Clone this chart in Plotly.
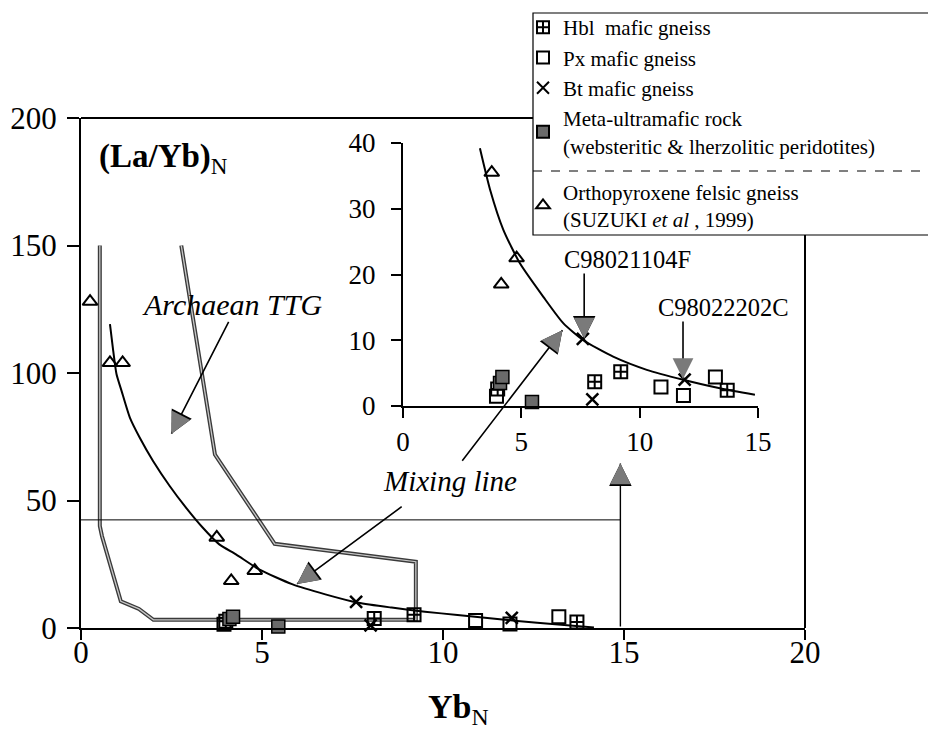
import plotly.graph_objects as go

W, H = 928, 737
FONT = "Liberation Serif"

# ---------------- data ----------------
hbl_x = [4.0, 8.1, 9.2, 13.7]
hbl_y = [2.6, 3.7, 5.2, 2.4]
px_x = [3.95, 10.9, 11.85, 13.2]
px_y = [1.5, 2.9, 1.6, 4.4]
bt_x = [7.6, 8.0, 11.9]
bt_y = [10.2, 1.0, 4.0]
um_x = [4.1, 4.2, 5.45]
um_y = [3.5, 4.4, 0.6]
opx_x = [0.25, 0.8, 1.15, 3.75, 4.15, 4.8]
opx_y = [128, 104, 104, 35.5, 18.5, 22.5]

# mixing line, main panel
mix_x = [0.80, 0.89, 0.98, 1.12, 1.35, 1.62, 1.99, 2.45, 2.90, 3.36, 3.82, 4.28,
         4.92, 5.83, 6.75, 7.66, 8.58, 9.5, 10.4, 11.5, 12.6, 14.17]
mix_y = [119.2, 108.7, 99.6, 93.0, 82.5, 74.7, 65.5, 55.7, 47.2, 39.4, 32.8, 28.9,
         23.0, 17.2, 13.2, 9.9, 8.0, 6.4, 5.1, 3.5, 2.1, 0.2]
# mixing line, inset
mixi_x = [3.25, 3.68, 4.24, 4.94, 5.93, 6.77, 7.62, 8.88, 10.3, 11.84, 13.39, 14.87]
mixi_y = [39.2, 32.9, 26.8, 21.7, 16.6, 12.6, 10.0, 7.5, 5.5, 4.0, 2.7, 1.7]

# Archaean TTG field outline
ttg_x = [2.77, 3.7, 5.35, 9.25, 9.25, 2.0, 1.6, 1.1, 0.58, 0.52, 0.52]
ttg_y = [150, 68, 33, 26, 3.2, 3.2, 7.5, 10.5, 36, 40, 150]

x_ticks = [0, 5, 10, 15, 20]
y_ticks = [0, 50, 100, 150, 200]
xi_ticks = [0, 5, 10, 15]
yi_ticks = [0, 10, 20, 30, 40]

# ---------------- layout geometry ----------------
mx0, mx1 = 81 / W, 805 / W
my0, my1 = 1 - 628 / H, 1 - 118 / H
ix0, ix1 = 403 / W, 758 / W
iy0, iy1 = 1 - 406 / H, 1 - 143 / H

fig = go.Figure()

def sym_traces(xa, ya, show):
    common = dict(mode="markers", xaxis=xa, yaxis=ya, cliponaxis=False, showlegend=show)
    fig.add_trace(go.Scatter(x=hbl_x, y=hbl_y, name="Hbl  mafic gneiss", legendgroup="a",
                             marker=dict(symbol="square-cross-open", size=13, color="black",
                                         line=dict(width=2, color="black")), **common))
    fig.add_trace(go.Scatter(x=px_x, y=px_y, name="Px mafic gneiss", legendgroup="a",
                             marker=dict(symbol="square-open", size=13, color="black",
                                         line=dict(width=2, color="black")), **common))
    fig.add_trace(go.Scatter(x=bt_x, y=bt_y, name="Bt mafic gneiss", legendgroup="a",
                             marker=dict(symbol="x-thin-open", size=12, color="black",
                                         line=dict(width=2.5, color="black")), **common))
    fig.add_trace(go.Scatter(x=um_x, y=um_y,
                             name="Meta-ultramafic rock<br>(websteritic & lherzolitic peridotites)",
                             legendgroup="a",
                             marker=dict(symbol="square", size=13, color="#6a6a6a",
                                         line=dict(width=1.5, color="black")), **common))
    fig.add_trace(go.Scatter(x=opx_x, y=opx_y,
                             name="Orthopyroxene felsic gneiss<br>(SUZUKI <i>et al</i> , 1999)",
                             legendgroup="b",
                             marker=dict(symbol="triangle-up-open", size=13, color="black",
                                         line=dict(width=2, color="black")), **common))

# main panel lines
fig.add_trace(go.Scatter(x=ttg_x, y=ttg_y, mode="lines", showlegend=False, legendgroup="a",
                         line=dict(color="#3a3a3a", width=4)))
fig.add_trace(go.Scatter(x=ttg_x, y=ttg_y, mode="lines", showlegend=False, legendgroup="a",
                         line=dict(color="#c8c8c8", width=1.3)))
fig.add_trace(go.Scatter(x=mix_x, y=mix_y, mode="lines", showlegend=False, legendgroup="a",
                         line=dict(color="black", width=2, shape="spline", smoothing=0.6)))
sym_traces("x", "y", True)

# inset lines and symbols
fig.add_trace(go.Scatter(x=mixi_x, y=mixi_y, mode="lines", showlegend=False, legendgroup="a",
                         xaxis="x2", yaxis="y2",
                         line=dict(color="black", width=2, shape="spline", smoothing=0.6)))
sym_traces("x2", "y2", False)

axis_common = dict(showgrid=False, zeroline=False, showline=True, linecolor="black",
                   ticks="outside", tickcolor="black", color="black", automargin=False)

fig.update_layout(
    width=W, height=H,
    margin=dict(l=0, r=0, t=0, b=0, autoexpand=False),
    paper_bgcolor="white", plot_bgcolor="rgba(0,0,0,0)",
    font=dict(family=FONT, color="black"),
    xaxis=dict(domain=[mx0, mx1], range=[0, 20], tickvals=x_ticks, linewidth=2,
               ticklen=10, tickwidth=2, tickfont=dict(size=31, family=FONT),
               anchor="y", ticklabelstandoff=-14, **axis_common),
    yaxis=dict(domain=[my0, my1], range=[0, 200], tickvals=y_ticks, linewidth=2,
               ticklen=12, tickwidth=2, tickfont=dict(size=31, family=FONT),
               anchor="x", ticklabelstandoff=4, **axis_common),
    xaxis2=dict(domain=[ix0, ix1], range=[0, 15], tickvals=xi_ticks, linewidth=2,
                ticklen=10, tickwidth=2, tickfont=dict(size=27, family=FONT),
                anchor="y2", ticklabelstandoff=1, **axis_common),
    yaxis2=dict(domain=[iy0, iy1], range=[0, 40], tickvals=yi_ticks, linewidth=2,
                ticklen=10, tickwidth=2, tickfont=dict(size=27, family=FONT),
                anchor="x2", ticklabelstandoff=10, **axis_common),
    legend=dict(x=523 / W, y=1 - 7 / H, xanchor="left", yanchor="top",
                bgcolor="rgba(0,0,0,0)", borderwidth=0,
                font=dict(size=21, family=FONT, color="black"),
                traceorder="grouped", tracegroupgap=16, itemsizing="constant"),
    showlegend=True,
)

# frame (top/right), legend box and dashed separator
lx0, ly_top, ly_bot, ly_dash = 533 / W, 1 - 13 / H, 1 - 235 / H, 1 - 171 / H
fig.add_shape(type="line", xref="paper", yref="paper", x0=mx0, x1=mx1, y0=my1, y1=my1,
              line=dict(color="black", width=2), layer="below")
fig.add_shape(type="line", xref="paper", yref="paper", x0=mx1, x1=mx1, y0=my0, y1=my1,
              line=dict(color="black", width=2), layer="below")
fig.add_shape(type="rect", xref="paper", yref="paper", x0=lx0, x1=1.01, y0=ly_bot, y1=ly_top,
              fillcolor="white", line=dict(color="black", width=1.2), layer="below")
fig.add_shape(type="line", xref="paper", yref="paper", x0=lx0, x1=1.0, y0=ly_dash, y1=ly_dash,
              line=dict(color="black", width=1, dash="dash"), layer="below")

# thin guide line at the inset's upper limit
fig.add_shape(type="line", xref="x", yref="y", x0=0, x1=14.9, y0=42.4, y1=42.4,
              line=dict(color="black", width=1))

# ---------------- annotations ----------------
ann = []

def arrow(xt, yt, xh, yh, xref="x", yref="y", lw=1.6):
    base = dict(x=xh, y=yh, xref=xref, yref=yref, axref=xref, ayref=yref,
                showarrow=True, text="")
    # shaft
    ann.append(dict(base, ax=xt, ay=yt, arrowhead=0, arrowwidth=lw, arrowcolor="black"))
    f = 0.12
    hx, hy = xh + f * (xt - xh), yh + f * (yt - yh)
    # dark outline head, then grey head on top
    ann.append(dict(base, ax=hx, ay=hy, arrowhead=2, arrowwidth=0.5, arrowsize=9.0,
                    arrowcolor="black"))
    ann.append(dict(base, ax=hx, ay=hy, arrowhead=2, arrowwidth=0.5, arrowsize=8.3,
                    arrowcolor="#7a7a7a"))

def label(x, y, text, size, xanchor="center", xref="x", yref="y"):
    ann.append(dict(x=x, y=y, xref=xref, yref=yref, text=text, showarrow=False,
                    xanchor=xanchor, yanchor="middle",
                    font=dict(size=size, family=FONT, color="black")))

label(0.45, 184, "<b>(La/Yb)</b><sub>N</sub>", 33, xanchor="left")
label(4.17, 127, "<i>Archaean TTG</i>", 30)
label(10.2, 57.5, "<i>Mixing line</i>", 29)
label(15.1, 144.5, "C98021104F", 24.5)
label(17.75, 125.5, "C98022202C", 24.5)
label(458 / W, 1 - 709 / H, "<b>Yb</b><sub>N</sub>", 34, xref="paper", yref="paper")

arrow(4.1, 120.6, 2.5, 76.2)        # Archaean TTG
arrow(8.9, 48.0, 5.97, 17.3)        # Mixing line -> main curve
arrow(10.5, 65.0, 13.3, 116.8)      # Mixing line -> inset curve
arrow(13.9, 139.6, 13.9, 113.5)     # C98021104F
arrow(16.63, 120.8, 16.63, 97.6)    # C98022202C
arrow(14.9, 0, 14.9, 64.5, lw=1.4)  # inset bound marker

fig.update_layout(annotations=ann)

fig.write_html("out.html", config={"displayModeBar": False},
               post_script="document.body.style.margin='0px';")
